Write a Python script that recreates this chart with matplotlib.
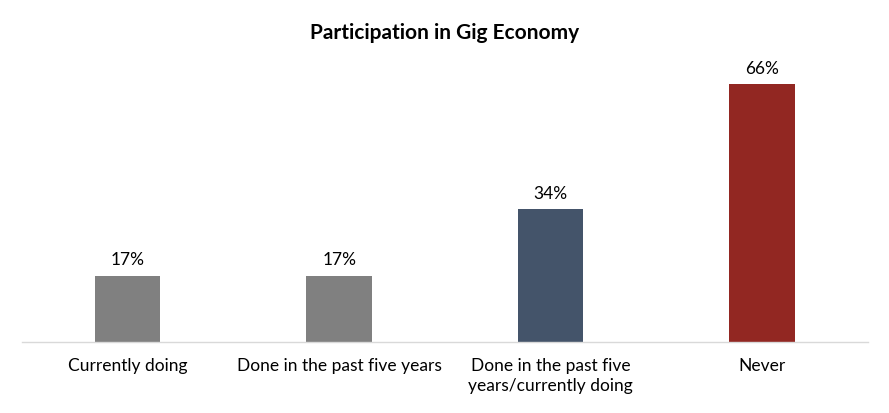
import matplotlib.pyplot as plt

# Participation in Gig Economy
categories = ["Currently doing", "Done in the past five years",
              "Done in the past five\nyears/currently doing", "Never"]
values = [17, 17, 34, 66]
colors = ["#808080", "#808080", "#44546a", "#922722"]

plt.rcParams['font.family'] = ['Lato', 'DejaVu Sans']

fig = plt.figure(figsize=(8.89, 4.14), dpi=100)
ax = fig.add_axes([0.0247, 0.1715, 0.9516, 0.7077])

x = range(len(categories))
bars = ax.bar(x, values, width=0.31, color=colors)
for b, v in zip(bars, values):
    ax.text(b.get_x() + b.get_width() / 2, v + 2.2, f"{v}%",
            ha="center", va="bottom", fontsize=12.5)

ax.set_xlim(-0.5, 3.5)
ax.set_ylim(0, 75)
ax.set_xticks(list(x))
ax.set_xticklabels(categories, fontsize=12.5, linespacing=1.25, va="top")
ax.tick_params(axis="x", length=0, pad=11)
ax.set_yticks([])
for s in ["top", "right", "left"]:
    ax.spines[s].set_visible(False)
ax.spines["bottom"].set_color("#d9d9d9")
ax.spines["bottom"].set_linewidth(1)

fig.text(0.5, 0.92, "Participation in Gig Economy", ha="center", va="center",
         fontsize=15, fontweight="bold")

plt.savefig("out.png", dpi=100)
